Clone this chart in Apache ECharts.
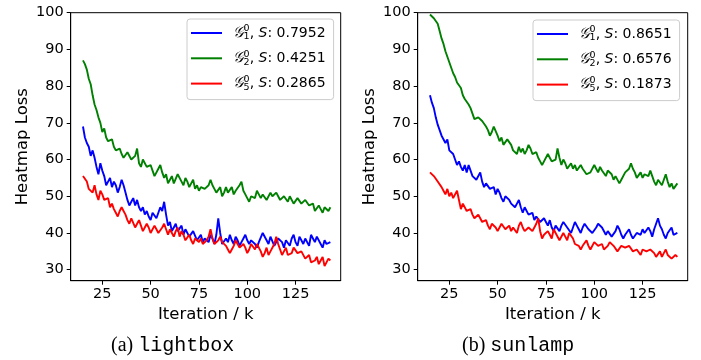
<!DOCTYPE html>
<html><head><meta charset="utf-8">
<script src="https://cdn.jsdelivr.net/npm/echarts@6/dist/echarts.min.js"></script>
<style>html,body{margin:0;padding:0;background:#fff}#c{width:701px;height:360px}</style>
</head><body><div id="c"></div><script>
// Iteration (k)
const iterations = [15,16,17,18,19,20,21,22,23,24,25,26,27,28,29,30,31,32,33,34,35,36,37,38,39,40,41,42,43,44,45,46,47,48,49,50,51,52,53,54,55,56,57,58,59,60,61,62,63,64,65,66,67,68,69,70,71,72,73,74,75,76,77,78,79,80,81,82,83,84,85,86,87,88,89,90,91,92,93,94,95,96,97,98,99,100,101,102,103,104,105,106,107,108,109,110,111,112,113,114,115,116,117,118,119,120,121,122,123,124,125,126,127,128,129,130,131,132,133,134,135,136,137,138,139,140,141,142,143];

// (a) lightbox
const lightboxG1 = [69.0,66.0,64.5,63.5,61.0,62.5,60.5,58.0,56.0,59.0, 57.0,55.5,53.0,54.0,55.0,52.5,54.0,53.0,51.0,52.5, 54.5,53.0,51.0,49.0,47.5,48.5,49.5,47.5,49.0,47.0, 46.0,47.0,45.0,46.0,44.5,43.5,45.5,45.0,44.0,45.5, 47.0,46.0,48.5,45.0,42.0,43.0,40.5,41.5,42.5,40.5, 41.0,42.0,39.5,41.0,40.5,39.0,39.0,40.5,40.0,38.0, 38.5,39.5,37.5,38.5,39.0,37.5,39.5,38.5,37.0,39.5, 44.0,40.0,37.0,36.5,38.5,37.5,39.5,38.0,37.0,39.0, 38.0,36.5,37.5,38.5,39.5,38.0,37.0,38.0,38.5,37.0, 36.0,37.5,38.0,40.0,39.5,38.0,37.0,39.0,38.5,36.5, 37.5,38.5,39.0,37.5,36.0,38.0,37.5,36.5,38.5,39.5, 37.5,36.5,39.0,38.0,37.0,38.5,38.0,36.5,39.5,38.5, 37.5,39.0,38.5,37.0,36.0,38.0,37.0,36.5,37.5];
const lightboxG2 = [87.0,86.0,84.5,82.0,80.5,77.5,75.0,73.5,71.5,70.0, 67.5,68.5,66.0,65.0,64.5,65.5,63.5,62.5,62.0,63.0, 61.5,60.5,60.0,62.0,61.5,60.0,59.5,61.0,63.0,59.0, 58.0,60.0,59.5,58.0,57.5,58.5,57.0,55.5,56.0,57.5, 58.5,56.5,55.0,56.0,53.5,54.5,55.5,53.5,54.0,56.0, 55.5,54.0,53.0,55.0,54.0,52.5,53.5,54.5,52.0,53.0, 51.5,52.5,53.0,52.0,51.5,53.0,54.5,53.0,52.0,51.0, 51.0,52.5,50.0,51.0,52.5,51.0,51.5,52.5,50.5,51.5, 52.0,53.0,54.0,51.5,50.5,49.5,48.5,50.0,50.5,49.5, 51.5,50.5,49.5,50.5,50.5,49.0,49.0,51.0,50.0,49.5, 51.0,50.0,49.0,48.5,50.0,49.5,48.5,50.0,49.5,48.0, 48.0,49.5,49.0,48.0,47.5,49.0,48.5,47.5,47.0,48.0, 46.0,45.5,47.5,46.5,45.5,47.0,46.5,46.0,47.0];
const lightboxG5 = [55.5,55.0,54.0,52.0,52.5,51.0,53.0,50.5,49.0,51.5, 50.5,49.0,48.5,49.5,47.0,48.0,46.5,45.5,44.5,46.0, 47.0,46.0,45.0,43.5,42.5,44.0,43.5,41.5,42.5,43.5, 42.0,40.5,41.0,42.5,41.5,40.0,40.5,42.0,41.0,40.0, 40.5,41.5,42.5,41.0,39.5,41.0,40.0,39.0,40.5,41.5, 39.0,40.5,39.5,38.0,38.5,39.5,38.0,37.0,38.5,39.0, 37.5,38.5,37.0,36.5,38.0,39.0,41.0,38.5,37.0,36.5, 38.0,39.0,37.5,38.0,36.5,35.5,34.5,35.5,36.5,38.0, 37.0,36.0,35.5,37.0,36.0,34.5,35.5,37.0,36.5,35.5, 37.0,36.0,35.0,33.5,34.5,36.0,34.0,35.0,35.5,37.0, 39.0,37.0,35.5,34.0,35.0,36.0,34.0,33.5,34.5,36.0, 35.5,34.5,34.0,35.0,34.5,33.0,33.5,34.0,32.0,31.5, 32.5,33.5,31.5,32.5,33.5,31.0,32.0,33.0,32.5];

// (b) sunlamp
const sunlampG1 = [77.5,75.5,74.0,71.5,69.5,68.0,66.5,67.0,64.5,65.5, 62.5,63.0,61.5,60.0,58.5,59.5,58.0,57.0,58.5,56.5, 58.5,57.0,55.5,56.0,54.5,55.0,56.5,54.0,52.5,53.5, 53.0,52.0,51.5,52.5,50.5,52.0,51.0,49.5,48.5,50.0, 50.0,49.0,48.0,47.5,47.0,48.0,49.0,47.0,45.5,47.0, 46.5,45.0,44.5,45.5,43.5,44.5,44.0,43.0,42.5,44.0, 43.0,42.0,43.5,41.5,40.5,42.0,41.5,40.5,42.0,43.0, 42.5,41.5,41.0,40.0,41.5,43.0,42.0,41.0,40.0,41.5, 42.5,43.0,41.0,40.5,40.0,39.5,41.5,42.5,43.0,41.5, 41.0,39.5,40.5,41.0,39.0,39.5,40.5,42.0,41.0,39.5, 38.5,39.5,40.0,41.0,39.5,38.5,39.0,40.0,40.5,39.5, 41.0,40.0,39.5,41.5,40.5,39.0,41.0,42.5,44.0,42.0, 41.0,39.5,38.5,40.0,40.5,41.5,39.5,39.0,40.0];
const sunlampG2 = [99.5,99.0,98.5,98.0,97.0,95.0,93.0,91.5,89.5,88.0, 86.5,85.0,83.5,82.5,81.0,80.5,79.5,77.5,76.5,77.0, 75.0,74.0,72.5,71.0,70.5,71.5,72.0,70.5,70.0,69.0, 68.0,66.5,67.5,69.0,68.5,66.5,65.0,66.0,64.0,63.5, 65.5,66.0,64.0,62.5,62.0,61.5,63.5,62.0,63.0,61.5, 62.5,64.0,63.0,61.5,61.0,62.0,60.5,59.5,58.5,59.5, 60.0,61.5,60.5,59.5,59.0,60.0,63.0,60.5,58.5,60.0, 59.0,57.5,58.0,59.0,57.5,58.5,57.0,56.5,58.5,57.5, 57.0,56.0,55.5,56.5,57.0,58.5,57.5,56.5,58.0,57.0, 56.5,55.5,57.0,56.5,56.0,54.5,55.5,55.0,53.5,54.5, 55.0,56.5,56.0,57.5,59.0,57.5,56.5,55.0,55.5,56.5, 55.0,56.0,56.5,55.5,57.0,55.5,54.0,53.0,54.5,55.0, 53.0,54.5,56.0,54.0,52.5,53.5,52.0,52.5,53.5];
const sunlampG5 = [56.5,57.0,55.5,55.0,54.0,53.5,52.5,51.5,50.5,52.0, 50.0,51.0,49.5,50.5,51.5,49.0,46.5,48.0,47.5,46.0, 45.5,46.5,45.0,44.0,43.5,45.0,44.0,43.0,42.5,43.5, 42.0,41.0,42.5,43.0,41.5,40.5,41.0,42.5,42.0,41.0, 41.0,42.0,40.5,41.5,41.0,40.0,42.0,43.0,41.5,40.5, 40.5,41.5,42.0,40.5,41.5,42.5,44.0,40.5,38.5,39.5, 39.0,40.5,39.5,38.5,41.0,40.0,39.5,38.0,38.5,40.0, 39.0,38.0,40.0,39.5,38.5,37.0,37.5,36.5,35.5,36.5, 37.0,38.0,36.5,35.5,36.0,37.5,37.0,36.5,36.0,37.0, 35.5,36.0,36.5,37.5,38.0,36.5,36.0,35.0,35.5,36.5, 37.0,36.0,35.5,36.5,36.0,35.0,34.5,35.5,35.0,34.0, 35.5,36.0,35.0,34.5,35.5,35.0,34.5,33.5,34.0,35.0, 33.5,34.5,35.5,34.0,34.0,33.0,32.5,34.0,33.5];

const lightboxScores = ['0.7952','0.4251','0.2865'];
const sunlampScores = ['0.8651','0.6576','0.1873'];
const graphIndices = ['1','2','5'];
const xTicks = [25,50,75,100,125];
const yTicks = [30,40,50,60,70,80,90,100];
const captions = [['(a)','lightbox'],['(b)','sunlamp']];

const colors = ['#0000ff','#008000','#ff0000'];
const FONT = 'DejaVu Sans';

function pairs(vals){ return iterations.map((x,i)=>[x, vals[i]]); }

const panels = [
  {key:'a', data:[lightboxG1, lightboxG2, lightboxG5], scores: lightboxScores, gridLeft:70.7, legendLeft:187, legendTop:19, capLeft:111},
  {key:'b', data:[sunlampG1, sunlampG2, sunlampG5], scores: sunlampScores, gridLeft:417.7, legendLeft:533, legendTop:20, capLeft:462}
];

const nameMap = {};
const grids=[], xAxes=[], yAxes=[], series=[], legends=[], titles=[];
const rich = {
  pad:{width:5.6, fontSize:14, lineHeight:18},
  g:{fontFamily:'DejaVu Serif', fontStyle:'italic', fontSize:15, lineHeight:18, color:'#000'},
  sup:{fontFamily:FONT, fontSize:9.5, width:0, verticalAlign:'top', lineHeight:12, color:'#000'},
  sub:{fontFamily:FONT, fontSize:9.5, verticalAlign:'bottom', lineHeight:12, color:'#000'},
  t:{fontFamily:FONT, fontSize:14, lineHeight:18, color:'#000'},
  i:{fontFamily:FONT, fontStyle:'italic', fontSize:14, lineHeight:18, color:'#000'}
};

panels.forEach((p, pi)=>{
  grids.push({left:p.gridLeft, top:12.7, width:270, height:268, show:true, borderColor:'#000', borderWidth:1, backgroundColor:'transparent', containLabel:false});
  xAxes.push({type:'value', gridIndex:pi, min:8.65, max:148.35,
    axisLine:{show:true, lineStyle:{color:'#000', width:1}},
    axisTick:{show:true, length:4, customValues:xTicks, lineStyle:{color:'#000', width:1}},
    axisLabel:{customValues:xTicks, fontFamily:FONT, fontSize:14.5, color:'#000', margin:6},
    splitLine:{show:false},
    name:'Iteration / k', nameLocation:'middle', nameGap:25,
    nameTextStyle:{fontFamily:FONT, fontSize:16.5, color:'#000'}});
  yAxes.push({type:'value', gridIndex:pi, min:27, max:100,
    axisLine:{show:true, lineStyle:{color:'#000', width:1}},
    axisTick:{show:true, length:4, customValues:yTicks, lineStyle:{color:'#000', width:1}},
    axisLabel:{customValues:yTicks, fontFamily:FONT, fontSize:14.5, color:'#000', margin:7},
    splitLine:{show:false},
    name:'Heatmap Loss', nameLocation:'middle', nameGap:39,
    nameTextStyle:{fontFamily:FONT, fontSize:16.5, color:'#000'}});
  const names=[];
  p.data.forEach((vals, si)=>{
    const nm = p.key + '-G' + graphIndices[si];
    names.push({name:nm, icon:'rect'});
    nameMap[nm] = '{pad|}{g|𝒢}{sup|0}{sub|' + graphIndices[si] + '}{t|, }{i|S}{t|: ' + p.scores[si] + '}';
    series.push({type:'line', name:nm, xAxisIndex:pi, yAxisIndex:pi, data:pairs(vals),
      symbol:'none', showSymbol:false, color:colors[si],
      lineStyle:{color:colors[si], width:1.9}, z:2+si, animation:false});
  });
  legends.push({data:names, orient:'vertical', left:p.legendLeft, top:p.legendTop,
    padding:[5,8,7,4], itemGap:7.3, itemWidth:31, itemHeight:2,
    backgroundColor:'rgba(255,255,255,0.8)', borderColor:'#cccccc', borderWidth:1, borderRadius:3,
    selectedMode:false,
    formatter: n=>nameMap[n],
    textStyle:{fontFamily:FONT, fontSize:14, color:'#000', lineHeight:18, rich:rich}});
  titles.push({text:'{p|'+captions[pi][0]+'} {m|'+captions[pi][1]+'}', left:p.capLeft, top:334, padding:0,
    textStyle:{fontWeight:'normal', rich:{
      p:{fontFamily:'Liberation Serif', fontSize:20, fontWeight:'normal', color:'#000', lineHeight:24},
      m:{fontFamily:'Liberation Mono', fontSize:20, fontWeight:'normal', color:'#000', lineHeight:24}
    }}});
});

const chart = echarts.init(document.getElementById('c'), null, {renderer:'canvas'});
chart.setOption({
  animation:false,
  backgroundColor:'#fff',
  title:titles, grid:grids, xAxis:xAxes, yAxis:yAxes, legend:legends, series:series
});
</script></body></html>
